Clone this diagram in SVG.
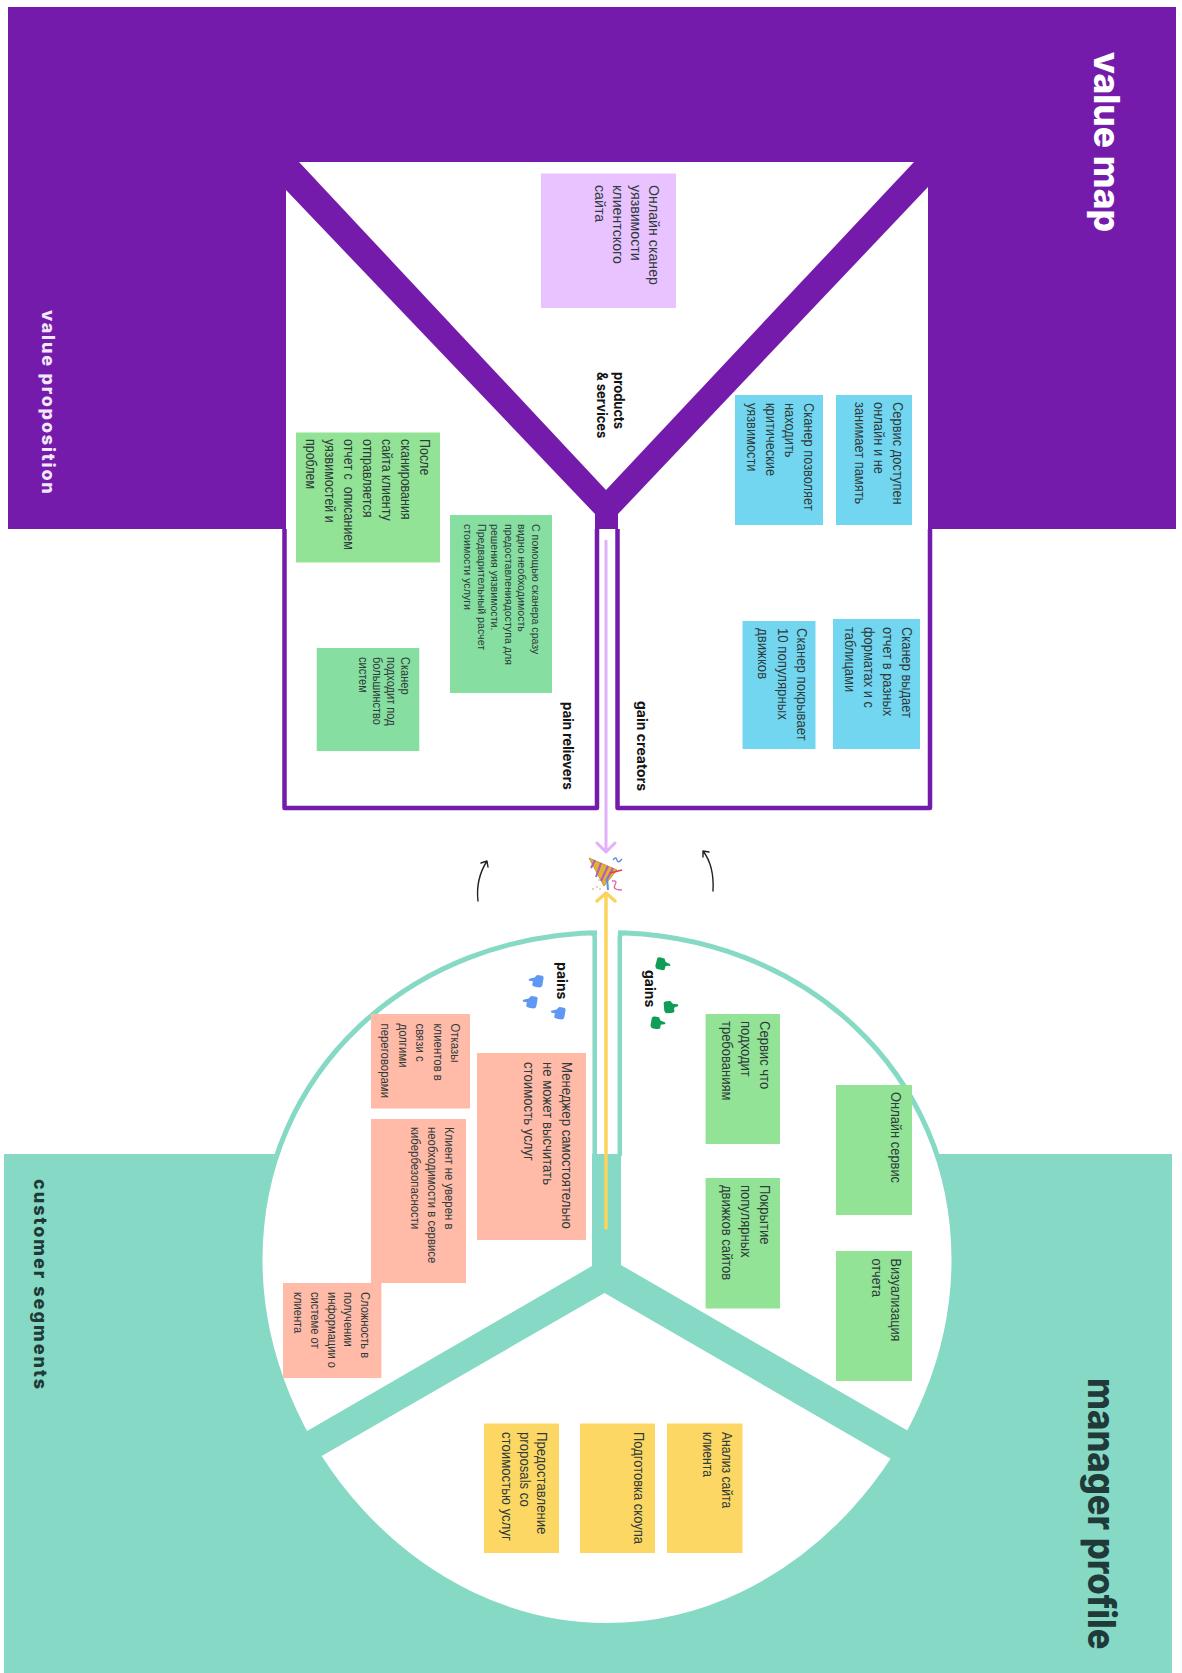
<svg xmlns="http://www.w3.org/2000/svg" xmlns:xlink="http://www.w3.org/1999/xlink" width="1182" height="1673" viewBox="0 0 1182 1673">
<style>
text{font-family:"Liberation Sans",Arial,sans-serif;fill:#2f3a3a}
.t14{font-size:14.5px}.t12{font-size:12px}.t11{font-size:11.2px}
.h{font-family:Inter,"Liberation Sans",sans-serif;font-weight:700;font-size:14px;fill:#141414}
.big{font-family:Inter,"Liberation Sans",sans-serif;font-weight:800}
.lilac{fill:#e8c3ff}.blue{fill:#72d6f1}.g1{fill:#92e396}.g2{fill:#86dfa0}.sal{fill:#ffbba8}.yel{fill:#fdd764}
.pf{fill:none;stroke:#751bab;stroke-width:4.5;stroke-linejoin:round}
.tf{fill:none;stroke:#86d9c5;stroke-width:4.5;stroke-linejoin:round}
.arrow{fill:none;stroke-linecap:round;stroke-linejoin:round}
</style>
<defs>
<path id="thumbG" d="M-6 -4Q-6 -6 -3 -6L1 -6L3 -3L8 -2Q9 0 7 0L4 1L4 5Q3 6 0 6L-4 6Q-6 5 -6 3Z" fill="#0f9d58"/>
<path id="thumbB" d="M6 -4Q6 -6 3 -6L-1 -6L-3 -3L-8 -1Q-9 1 -7 1L-4 1L-4 5Q-3 6 0 6L4 6Q6 5 6 3Z" fill="#5f97f5"/>
</defs>
<g id="value-map-bg">
<rect x="8" y="7" width="1168" height="522" fill="#751bab"/>
<path fill="#fff" d="M299 162H914L606 490Z"/>
<path fill="#fff" d="M928 187V529H618V514Z"/>
<path fill="#fff" d="M286 190L595 514V529H286Z"/>
</g>
<g id="customer-profile-bg">
<rect x="4" y="1154" width="1168" height="519" fill="#86d9c5"/>
<path fill="#fff" stroke="#86d9c5" stroke-width="5" d="M607 932.5C410 932.5 260 1073 260 1260C260 1445 416 1625.5 607 1625.5C798 1625.5 954 1445 954 1260C954 1073 804 932.5 607 932.5Z"/>
<rect x="597" y="925" width="21" height="229" fill="#fff"/>
<path class="tf" d="M594.7 1156V937Q594.7 932.7 589 932.7"/>
<path class="tf" d="M619.8 1156V937Q619.8 932.7 626 932.7"/>
<path fill="#86d9c5" d="M592 1154H621V1265L1000 1484L1000 1522L604.5 1293L200 1526L200 1493L592 1266Z"/>
</g>
<g id="frame-pain-relievers"><path class="pf" d="M284.5 529V808H597V529"/></g>
<g id="frame-gain-creators"><path class="pf" d="M617.5 529V808H930V529"/></g>
<g id="connectors">
<path class="arrow" stroke="#e0b0fb" stroke-width="3" d="M606 541V852M597 843L606 852L615 843"/>
<path class="arrow" stroke="#fcd35c" stroke-width="3.5" d="M606 1228V893M597 901L606 893L615 901"/>
<path class="arrow" stroke="#222" stroke-width="1.4" d="M478 901C476 884 480 872 487 861M481 863L487 861L488 867"/>
<path class="arrow" stroke="#222" stroke-width="1.4" d="M713 891C714 873 710 860 703 851M709 852L703 851L703 857"/>
</g>
<g id="titles">
<text class="big" font-size="36" style="fill:#fff" transform="translate(1094 52) rotate(90) scale(.985 1)">value map</text>
<text class="big" font-size="18" letter-spacing="1.8" style="fill:#f3e8fb" transform="translate(42 310) rotate(90)">value proposition</text>
<text class="big" font-size="18" letter-spacing="2" style="fill:#1f3a38" transform="translate(34 1179) rotate(90)">customer segments</text>
<text class="big" font-size="38" style="fill:#1f3a38" transform="translate(1088 1378) rotate(90) scale(.91 1)">manager profile</text>
</g>
<g id="labels">
<text class="h" transform="translate(614 372) rotate(90) scale(.93 1)">products</text>
<text class="h" transform="translate(597 372) rotate(90) scale(.93 1)">&amp; services</text>
<text class="h" transform="translate(563 702) rotate(90) scale(.95 1)">pain relievers</text>
<text class="h" transform="translate(637 701) rotate(90)">gain creators</text>
<text class="h" transform="translate(557 962) rotate(90)">pains</text>
<text class="h" transform="translate(645 970) rotate(90)">gains</text>
</g>
<g id="note-products"><rect class="lilac" x="541" y="173.5" width="135" height="134.5"/>
<g class="t14" transform="translate(649 185) rotate(90) scale(.98 1)"><text>Онлайн сканер</text><text y="18">уязвимости</text><text y="36">клиентского</text><text y="54">сайта</text></g></g>
<g id="note-gc1"><rect class="blue" x="836" y="395" width="76" height="130"/>
<g class="t14" transform="translate(893 402) rotate(90) scale(.89 1)"><text>Сервис доступен</text><text y="19">онлайн и не</text><text y="38">занимает память</text></g></g>
<g id="note-gc2"><rect class="blue" x="735" y="395" width="88" height="130"/>
<g class="t14" transform="translate(804 403) rotate(90) scale(.885 1)"><text>Сканер позволяет</text><text y="19">находить</text><text y="38">критические</text><text y="57">уязвимости</text></g></g>
<g id="note-gc3"><rect class="blue" x="833" y="619" width="87" height="130"/>
<g class="t14" transform="translate(902 627) rotate(90) scale(.89 1)"><text>Сканер выдает</text><text y="19">отчет в разных</text><text y="38">форматах и с</text><text y="57">таблицами</text></g></g>
<g id="note-gc4"><rect class="blue" x="742.5" y="621" width="73" height="128"/>
<g class="t14" transform="translate(797 628) rotate(90) scale(.91 1)"><text>Сканер покрывает</text><text y="19.5">10 популярных</text><text y="39">движков</text></g></g>
<g id="note-pr1"><rect class="g1" x="296" y="432.5" width="144" height="130"/>
<g class="t14" transform="translate(420 439) rotate(90) scale(.86 1)"><text>После</text><text y="19">сканирования</text><text y="38">сайта клиенту</text><text y="57">отправляется</text><text y="76">отчет с&#160; описанием</text><text y="95">уязвимостей и</text><text y="114">проблем</text></g></g>
<g id="note-pr2"><rect class="g2" x="450" y="515" width="102" height="178"/>
<g class="t11" transform="translate(532 524) rotate(90) scale(.95 1)"><text>С помощью сканера сразу</text><text y="14">видно необходимость</text><text y="27.5">предоставлениядоступа для</text><text y="41">решения уязвимости.</text><text y="54.5">Предварительный расчет</text><text y="68">стоимости услуги</text></g></g>
<g id="note-pr3"><rect class="g2" x="316.7" y="648" width="102.6" height="103"/>
<g class="t12" transform="translate(401 657) rotate(90) scale(.92 1)"><text>Сканер</text><text y="14">подходит под</text><text y="28">большинство</text><text y="42">систем</text></g></g>
<g id="note-p1"><rect class="sal" x="477" y="1053" width="109" height="187"/>
<g class="t14" transform="translate(562 1062) rotate(90) scale(.91 1)"><text>Менеджер самостоятельно</text><text y="19">не может высчитать</text><text y="38">стоимость услуг</text></g></g>
<g id="note-p2"><rect class="sal" x="371" y="1014" width="99" height="94.5"/>
<g class="t12" transform="translate(451 1023.5) rotate(90) scale(.95 1)"><text>Отказы</text><text y="17.5">клиентов в</text><text y="35">связи с</text><text y="52.5">долгими</text><text y="70">переговорами</text></g></g>
<g id="note-p3"><rect class="sal" x="371" y="1119" width="95" height="164"/>
<g class="t12" transform="translate(445 1127) rotate(90) scale(.95 1)"><text>Клиент не уверен в</text><text y="17">необходимости в сервисе</text><text y="34">кибербезопасности</text></g></g>
<g id="note-p4"><rect class="sal" x="283" y="1283" width="98.4" height="95"/>
<g class="t12" transform="translate(361 1292) rotate(90) scale(.93 1)"><text>Сложность в</text><text y="16.7">получении</text><text y="33.4">информации о</text><text y="50">системе от</text><text y="67">клиента</text></g></g>
<g id="note-g1"><rect class="g1" x="705.6" y="1014" width="74.4" height="130"/>
<g class="t14" transform="translate(760 1021) rotate(90) scale(.9 1)"><text>Сервис что</text><text y="19">подходит</text><text y="38">требованиям</text></g></g>
<g id="note-g2"><rect class="g1" x="705.6" y="1178" width="74.4" height="130.5"/>
<g class="t14" transform="translate(760 1185) rotate(90) scale(.9 1)"><text>Покрытие</text><text y="19">популярных</text><text y="38">движков сайтов</text></g></g>
<g id="note-g3"><rect class="g1" x="836" y="1085" width="76" height="130"/>
<g class="t14" transform="translate(891 1092) rotate(90) scale(.89 1)"><text>Онлайн сервис</text></g></g>
<g id="note-g4"><rect class="g1" x="836" y="1251" width="76" height="130"/>
<g class="t14" transform="translate(891 1258.5) rotate(90) scale(.875 1)"><text>Визуализация</text><text y="19">отчета</text></g></g>
<g id="note-j1"><rect class="yel" x="667" y="1423.5" width="75.5" height="129.5"/>
<g class="t14" transform="translate(722 1432) rotate(90) scale(.84 1)"><text>Анализ сайта</text><text y="19">клиента</text></g></g>
<g id="note-j2"><rect class="yel" x="580" y="1423.5" width="75" height="129.5"/>
<g class="t14" transform="translate(634 1432) rotate(90) scale(.895 1)"><text>Подготовка скоупа</text></g></g>
<g id="note-j3"><rect class="yel" x="484" y="1423.5" width="75" height="129.5"/>
<g class="t14" transform="translate(537 1432) rotate(90) scale(.91 1)"><text>Предоставление</text><text y="17.5">proposals со</text><text y="35">стоимостью услуг</text></g></g>
<g id="thumbs">
<use xlink:href="#thumbG" transform="translate(662 964) rotate(15)"/><use xlink:href="#thumbG" transform="translate(670 1007) rotate(-5)"/><use xlink:href="#thumbG" transform="translate(657 1023) rotate(10)"/>
<use xlink:href="#thumbB" transform="translate(537 981) rotate(10)"/><use xlink:href="#thumbB" transform="translate(531 1002) rotate(10)"/><use xlink:href="#thumbB" transform="translate(559 1013) rotate(10)"/>
</g>
<g id="popper">
<path d="M589 858L617 870L604 886Z" fill="#e8b030" stroke="#b98a24" stroke-width=".8" stroke-linejoin="round"/>
<path d="M595 860L591 868M601 863L596 877M608 866L601 881M613 868L606 881" stroke="#a65fc8" stroke-width="2" fill="none"/>
<path d="M613 860Q616 856 617 860T622 859" stroke="#5f8fe0" stroke-width="1.3" fill="none"/>
<path d="M610 873L622 870" stroke="#e83a4a" stroke-width="1.3" fill="none"/>
<path d="M612 881Q618 880 615 885T622 890" stroke="#e060a0" stroke-width="1.3" fill="none"/>
<path d="M607 878L608 890" stroke="#5f8fe0" stroke-width="2" fill="none"/>
<path d="M592 889h2M596 887h2M599 889h2M598 880h2" stroke="#d8a080" stroke-width="1.2" fill="none"/>
</g>
</svg>
